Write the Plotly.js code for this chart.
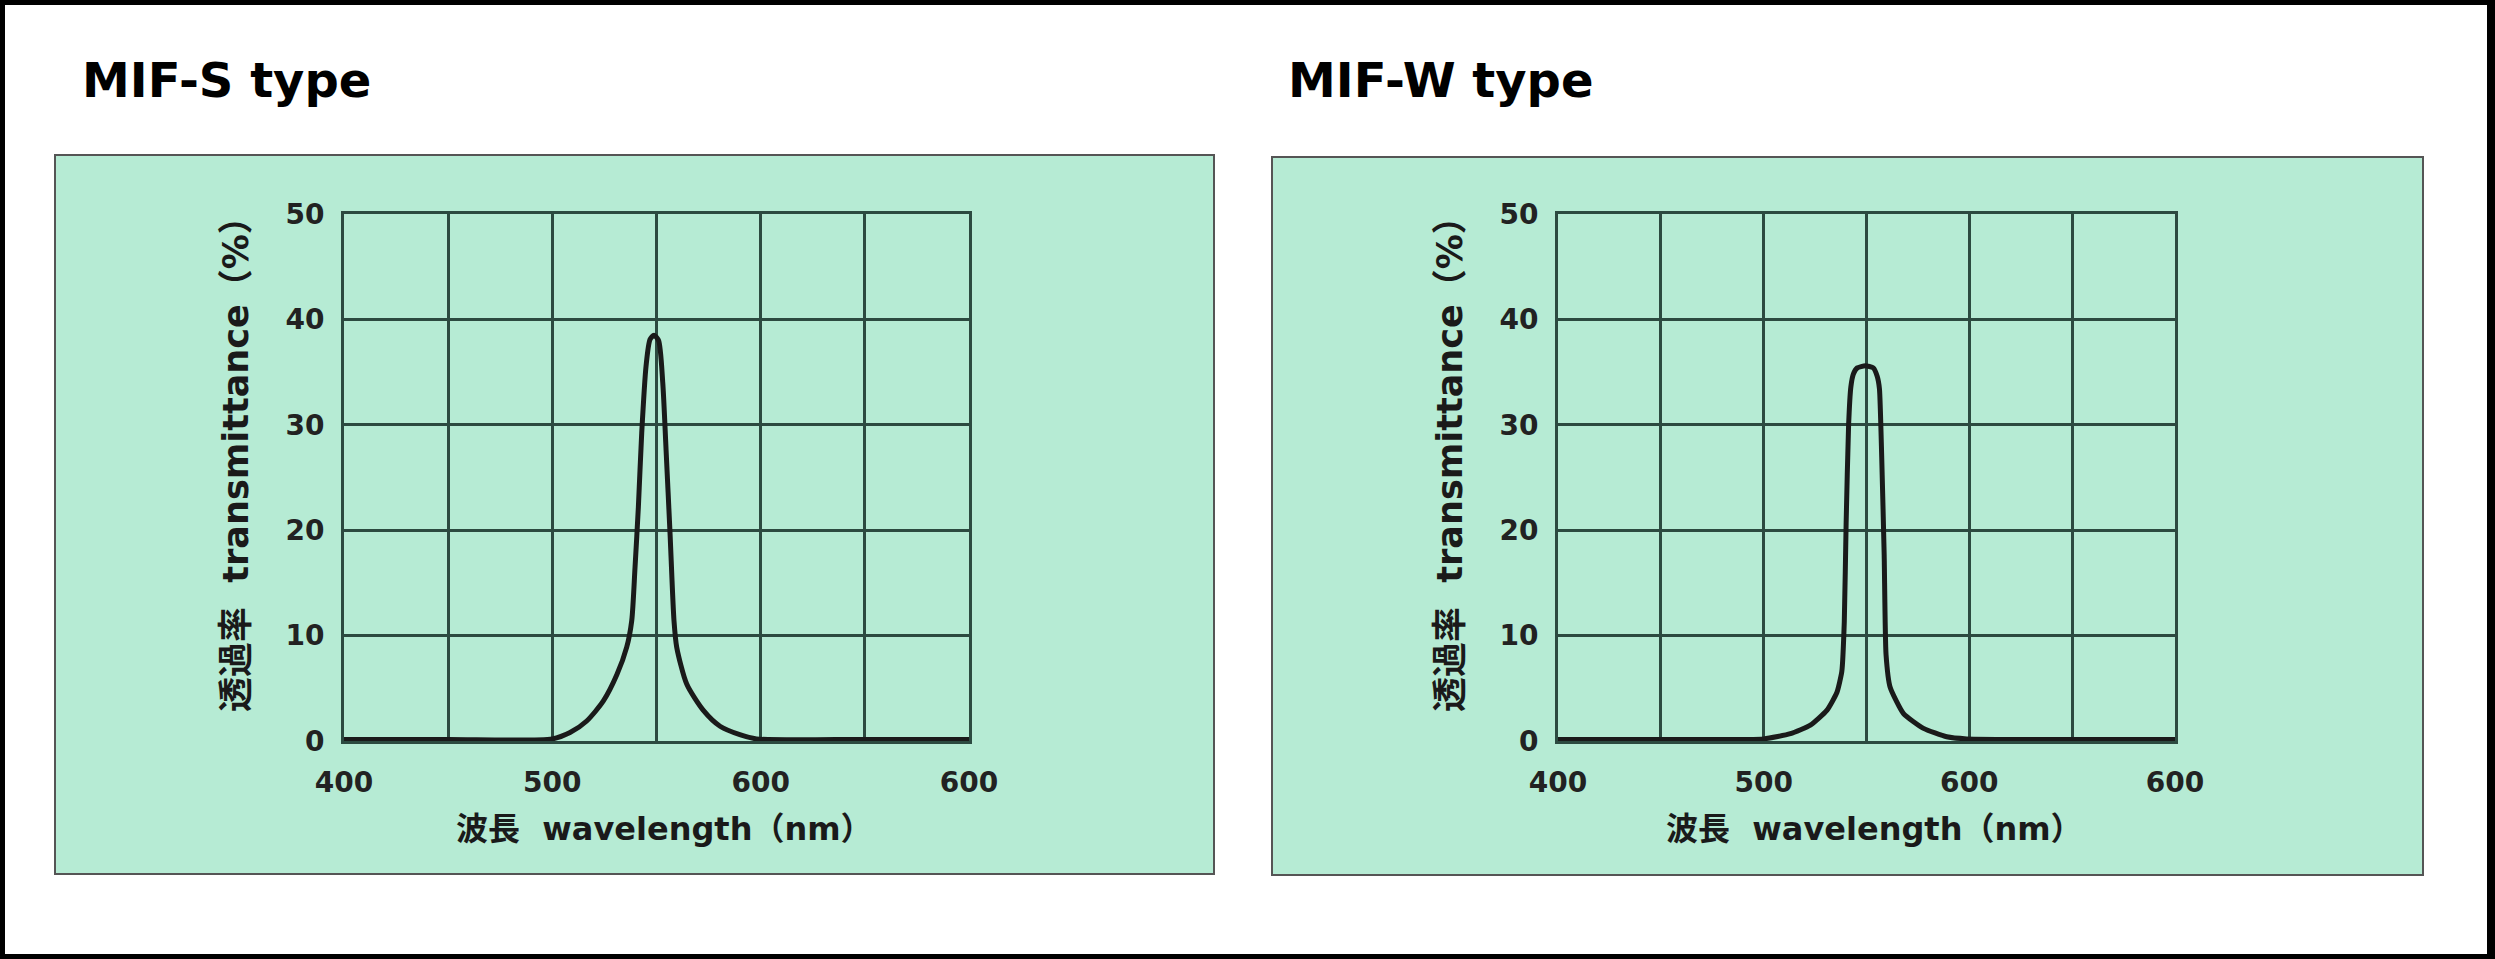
<!DOCTYPE html>
<html>
<head>
<meta charset="utf-8">
<script src="https://cdn.plot.ly/plotly-3.0.1.min.js"></script>
<style>
  html, body { margin: 0; padding: 0; background: #ffffff; }
  #chart { width: 2495px; height: 959px; }
</style>
</head>
<body>
<div id="chart"></div>
<script>
// data (wavelength nm, transmittance %)
var wavelengthS = [400, 450, 500, 508.5, 516.5, 524.5, 531, 535.7, 538.1, 539.7, 541.3, 542.9, 545, 546.9, 548.8, 551, 553, 554.6, 556.5, 558.4, 559.7, 564.5, 572.5, 580.5, 590, 598, 650, 700];
var transS      = [0.15, 0.15, 0.2, 0.8, 1.9, 3.8, 6.3, 8.9, 11.4, 16.5, 22.2, 29.2, 35.6, 38.1, 38.5, 38.0, 34, 27.6, 19.7, 11.4, 8.9, 5.4, 2.9, 1.4, 0.6, 0.2, 0.15, 0.15];

var wavelengthW = [400, 450, 500, 513, 522.7, 530.7, 535.6, 538, 539.2, 540.1, 541.3, 542.4, 543.6, 545.5, 549.4, 553.3, 555.2, 556.3, 557.4, 558.6, 559.5, 561.5, 568, 577.7, 589, 598.7, 650, 700];
var transW      = [0.15, 0.15, 0.2, 0.7, 1.5, 2.9, 4.6, 6.6, 11.3, 20.7, 30, 33.6, 34.8, 35.4, 35.6, 35.4, 34.6, 33.4, 26.9, 17.6, 8.2, 5.1, 2.6, 1.2, 0.4, 0.2, 0.15, 0.15];

// tick labels as printed (the last one really says 600)
var xTickVals = [400, 500, 600, 700];
var xTickText = ['400', '500', '600', '600'];
var yTickVals = [0, 10, 20, 30, 40, 50];

var panelTitles = ['MIF-S type', 'MIF-W type'];
var yTitle = '透過率&nbsp;&nbsp;transmittance（%）';
var xTitle = '波長&nbsp;&nbsp;wavelength（nm）';

var W = 2495, H = 959;
function px(x) { return x / W; }
function py(y) { return 1 - y / H; }

var green = '#b6ebd4';
var gridCol = '#2c4a40';
var tickFont = {family: 'DejaVu Sans, Liberation Sans, sans-serif', size: 28, color: '#222', weight: 'bold'};
var yTitleFont = {family: 'DejaVu Sans, Noto Sans CJK JP, sans-serif', size: 35, color: '#1a1a1a', weight: 'bold'};
var xTitleFont = {family: 'DejaVu Sans, Noto Sans CJK JP, sans-serif', size: 32, color: '#1a1a1a', weight: 'bold'};

function xAxis(domain, anchor) {
  return {
    domain: domain, anchor: anchor,
    range: [400, 700], tickvals: xTickVals, ticktext: xTickText,
    ticks: 'outside', ticklen: 14, tickcolor: 'rgba(0,0,0,0)',
    showgrid: true, gridcolor: gridCol, gridwidth: 3,
    minor: {dtick: 50, showgrid: true, gridcolor: gridCol, gridwidth: 3},
    showline: true, mirror: true, linecolor: gridCol, linewidth: 3,
    zeroline: false, tickfont: tickFont, fixedrange: true
  };
}
function yAxis(anchor) {
  return {
    domain: [py(741), py(214)], anchor: anchor,
    range: [0, 50], tickvals: yTickVals,
    ticks: 'outside', ticklen: 11, tickcolor: 'rgba(0,0,0,0)',
    showgrid: true, gridcolor: gridCol, gridwidth: 3,
    showline: true, mirror: true, linecolor: gridCol, linewidth: 3,
    zeroline: false, tickfont: tickFont, fixedrange: true
  };
}

var traces = [
  {x: wavelengthS, y: transS, xaxis: 'x', yaxis: 'y', type: 'scatter', mode: 'lines',
   line: {color: '#1a1a1a', width: 5, shape: 'spline', smoothing: 0.7}, hoverinfo: 'skip'},
  {x: wavelengthW, y: transW, xaxis: 'x2', yaxis: 'y2', type: 'scatter', mode: 'lines',
   line: {color: '#1a1a1a', width: 5, shape: 'spline', smoothing: 0.5}, hoverinfo: 'skip'}
];

// panel geometry in pixels: plot left, plot right, box
var panels = [
  {plotL: 344, plotR: 969, box: [55, 155, 1214, 874], titleX: 80},
  {plotL: 1558, plotR: 2175, box: [1272, 157, 2423, 875], titleX: 1286}
];

var shapes = [];
var annotations = [];
panels.forEach(function(p, i) {
  shapes.push({type: 'rect', xref: 'paper', yref: 'paper', layer: 'below',
    x0: px(p.box[0]), x1: px(p.box[2]), y0: py(p.box[3]), y1: py(p.box[1]),
    fillcolor: green, line: {color: '#555', width: 2}});
  annotations.push({xref: 'paper', yref: 'paper', x: px(p.titleX), y: py(80),
    xanchor: 'left', yanchor: 'middle', showarrow: false, text: panelTitles[i],
    font: {family: 'DejaVu Sans, sans-serif', size: 48, color: '#000', weight: 'bold'}});
  annotations.push({xref: 'paper', yref: 'paper', x: px(p.plotL - 108), y: py(456),
    xanchor: 'center', yanchor: 'middle', showarrow: false, textangle: -90,
    text: yTitle, font: yTitleFont});
  annotations.push({xref: 'paper', yref: 'paper', x: px((p.plotL + p.plotR) / 2 + 8), y: py(829),
    xanchor: 'center', yanchor: 'middle', showarrow: false,
    text: xTitle, font: xTitleFont});
});

// black frame round the whole picture
shapes.push({type: 'rect', xref: 'paper', yref: 'paper', layer: 'above',
  x0: px(0.5), x1: px(W - 3.5), y0: py(H - 0.5), y1: py(0.5),
  line: {color: '#000', width: 9}});

var layout = {
  width: W, height: H,
  margin: {l: 0, r: 0, t: 0, b: 0},
  paper_bgcolor: '#ffffff', plot_bgcolor: green,
  showlegend: false,
  xaxis: xAxis([px(344), px(969)], 'y'),
  yaxis: yAxis('x'),
  xaxis2: xAxis([px(1558), px(2175)], 'y2'),
  yaxis2: yAxis('x2'),
  shapes: shapes,
  annotations: annotations
};

Plotly.newPlot('chart', traces, layout, {staticPlot: true, displayModeBar: false});
</script>
</body>
</html>
